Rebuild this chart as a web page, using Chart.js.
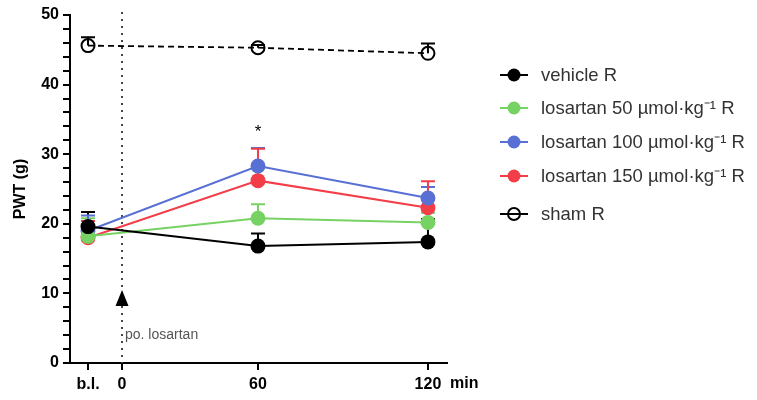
<!DOCTYPE html>
<html>
<head>
<meta charset="utf-8">
<script src="https://cdn.jsdelivr.net/npm/chart.js@4"></script>
<style>
  html, body { margin: 0; padding: 0; background: #fff; }
  #wrap { width: 757px; height: 400px; }
</style>
</head>
<body>
<div id="wrap"><canvas id="myChart"></canvas></div>
<script>
// time axis: the figure spaces its time points unevenly, so each label gets an axis position
const timeLabels = ['b.l.', '0', '60', '120'];
const timePos = [-10, 0, 40, 90];
const pointPos = [-10, 40, 90]; // b.l., 60 min, 120 min

const vehicle = [19.6, 16.8, 17.4];
const vehicleErr = [2.1, 1.8, 3.3];
const los50 = [18.2, 20.8, 20.2];
const los50Err = [2.6, 2.0, 1.4];
const los100 = [19.0, 28.3, 23.7];
const los100Err = [2.2, 2.6, 1.6];
const los150 = [18.0, 26.2, 22.3];
const los150Err = [2.4, 4.6, 3.8];
const sham = [45.6, 45.3, 44.5];
const shamErr = [1.2, 0.4, 1.4];

const yTicks = [0, 10, 20, 30, 40, 50];

const FONT = '"Liberation Sans", Arial, sans-serif';

function pts(vals) {
    return vals.map((v, i) => ({ x: pointPos[i], y: v }));
}

const series = [
    { label: 'vehicle R', data: vehicle, err: vehicleErr, color: '#000000' },
    { label: 'losartan 50 \u00b5mol\u00b7kg\u207b\u00b9 R', data: los50, err: los50Err, color: 'rgb(118,210,98)' },
    { label: 'losartan 100 \u00b5mol\u00b7kg\u207b\u00b9 R', data: los100, err: los100Err, color: 'rgb(88,112,212)' },
    { label: 'losartan 150 \u00b5mol\u00b7kg\u207b\u00b9 R', data: los150, err: los150Err, color: 'rgb(242,62,72)' },
];

const datasets = series.map(s => ({
    label: s.label,
    data: pts(s.data),
    err: s.err,
    borderColor: s.color,
    backgroundColor: s.color,
    pointBackgroundColor: s.color,
    pointBorderColor: s.color,
    borderWidth: 2,
    pointRadius: 7.5,
    pointBorderWidth: 0,
    tension: 0
}));

datasets.push({
    label: 'sham R',
    data: pts(sham),
    err: shamErr,
    borderColor: '#000',
    backgroundColor: 'rgba(0,0,0,0)',
    pointBackgroundColor: 'rgba(0,0,0,0)',
    pointBorderColor: '#000',
    borderWidth: 1.8,
    borderDash: [6, 4],
    pointRadius: 6.5,
    pointBorderWidth: 2,
    tension: 0,
    open: true
});

// error bars (upper only) under the markers
const errorBars = {
    id: 'errorBars',
    beforeDatasetsDraw(chart) {
        const c = chart.ctx, xs = chart.scales.x, ys = chart.scales.y;
        c.save();
        chart.data.datasets.forEach((ds, i) => {
            ds.data.forEach((p, j) => {
                const x = xs.getPixelForValue(p.x);
                const y0 = ys.getPixelForValue(p.y);
                const y1 = ys.getPixelForValue(p.y + ds.err[j]);
                c.strokeStyle = ds.pointBorderColor;
                c.lineWidth = 2;
                c.setLineDash([]);
                c.beginPath();
                c.moveTo(x, y0);
                c.lineTo(x, y1);
                c.moveTo(x - 7, y1);
                c.lineTo(x + 7, y1);
                c.stroke();
            });
        });
        // dotted line at time 0
        const x0 = xs.getPixelForValue(0);
        c.strokeStyle = '#444';
        c.lineWidth = 2;
        c.setLineDash([2, 5]);
        c.beginPath();
        c.moveTo(x0, chart.chartArea.top - 3);
        c.lineTo(x0, chart.chartArea.bottom);
        c.stroke();
        c.restore();
    }
};

const extras = {
    id: 'extras',
    afterDraw(chart) {
        const c = chart.ctx, xs = chart.scales.x, ys = chart.scales.y;
        c.save();
        // arrow marking the losartan dose
        const x0 = xs.getPixelForValue(0);
        const yt = ys.getPixelForValue(10.5), yb = ys.getPixelForValue(8.2);
        c.fillStyle = '#000';
        c.beginPath();
        c.moveTo(x0, yt);
        c.lineTo(x0 + 6.5, yb);
        c.lineTo(x0 - 6.5, yb);
        c.closePath();
        c.fill();

        c.fillStyle = '#555';
        c.font = '14px ' + FONT;
        c.textBaseline = 'middle';
        c.textAlign = 'left';
        c.fillText('po. losartan', x0 + 3, ys.getPixelForValue(4.0));

        // significance star
        c.fillStyle = '#000';
        c.font = '17px ' + FONT;
        c.textAlign = 'center';
        c.fillText('*', xs.getPixelForValue(40), ys.getPixelForValue(33.2));

        // unit after the last tick
        c.font = 'bold 16px ' + FONT;
        c.textAlign = 'left';
        c.fillText('min', 450, 384);

        // legend
        const legY = [75, 108, 142, 176, 214];
        chart.data.datasets.forEach((ds, i) => {
            const y = legY[i];
            c.setLineDash([]);
            c.strokeStyle = ds.borderColor;
            c.lineWidth = 2;
            c.beginPath();
            c.moveTo(500, y);
            c.lineTo(528, y);
            c.stroke();
            c.beginPath();
            if (ds.open) {
                c.arc(514, y, 6, 0, Math.PI * 2);
                c.stroke();
            } else {
                c.fillStyle = ds.pointBackgroundColor;
                c.arc(514, y, 6.5, 0, Math.PI * 2);
                c.fill();
            }
            c.fillStyle = '#333';
            c.font = '18.5px ' + FONT;
            c.textAlign = 'left';
            c.fillText(ds.label, 541, y + 1);
        });
        c.restore();
    }
};

const ctx = document.getElementById('myChart').getContext('2d');

const config = {
    type: 'line',
    data: { datasets },
    options: {
        responsive: true,
        maintainAspectRatio: false,
        animation: false,
        layout: { padding: { left: 0, right: 310, top: 15, bottom: 0 } },
        plugins: { legend: { display: false }, tooltip: { enabled: false } },
        scales: {
            x: {
                type: 'linear',
                min: -15.3,
                max: 95.6,
                afterBuildTicks: s => { s.ticks = timePos.map(v => ({ value: v })); },
                afterFit: s => { s.height = 37; },
                ticks: {
                    autoSkip: false,
                    maxRotation: 0,
                    padding: 5,
                    color: '#000',
                    font: { family: FONT, size: 16, weight: 'bold' },
                    callback: v => timeLabels[timePos.indexOf(v)]
                },
                grid: { drawOnChartArea: false, tickLength: 7, color: '#000', lineWidth: 2 },
                border: { color: '#000', width: 2 }
            },
            y: {
                min: 0,
                max: 50,
                afterFit: s => { s.width = 70; },
                ticks: {
                    stepSize: 2,
                    autoSkip: false,
                    padding: 4,
                    color: '#000',
                    font: { family: FONT, size: 16, weight: 'bold' },
                    callback: v => yTicks.includes(v) ? v : ''
                },
                grid: { drawOnChartArea: false, tickLength: 7, color: '#000', lineWidth: 2 },
                border: { color: '#000', width: 2 },
                title: {
                    display: true,
                    text: 'PWT (g)',
                    color: '#000',
                    padding: { top: 11, bottom: 0 },
                    font: { family: FONT, size: 16, weight: 'bold' }
                }
            }
        }
    },
    plugins: [errorBars, extras]
};

const myChart = new Chart(ctx, config);
</script>
</body>
</html>
